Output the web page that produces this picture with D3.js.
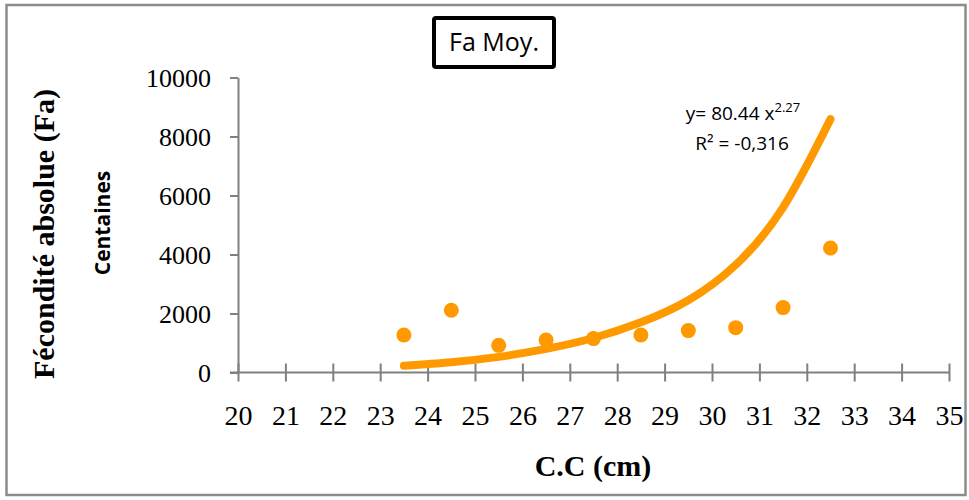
<!DOCTYPE html>
<html>
<head>
<meta charset="utf-8">
<script src="https://cdn.jsdelivr.net/npm/d3@7"></script>
<style>
  body { margin: 0; background: #fff; }
  svg { display: block; }
</style>
</head>
<body>
<div id="chart"></div>
<script>
// data
var lengths = [23.5, 24.5, 25.5, 26.5, 27.5, 28.5, 29.5, 30.5, 31.5, 32.5];
var fecundity = [1270, 2110, 920, 1100, 1150, 1270, 1420, 1520, 2200, 4220];
// trend curve, read at the same lengths
var trend = [231, 350, 530, 800, 1170, 1700, 2450, 3650, 5600, 8590];
var xTicks = d3.range(20, 36, 1);
var yTicks = [0, 2000, 4000, 6000, 8000, 10000];

var svgWidth = 969;
var svgHeight = 500;
var orange = "#ff9900";
var axisGrey = "#808080";

var svg = d3.select("#chart")
  .append("svg")
  .attr("width", svgWidth)
  .attr("height", svgHeight);

// outer frame
svg.append("rect")
  .attr("x", 6.5)
  .attr("y", 5)
  .attr("width", 959)
  .attr("height", 490)
  .attr("fill", "none")
  .attr("stroke", "#8c8c8c")
  .attr("stroke-width", 2.5);

var xScale = d3.scaleLinear().domain([20, 35]).range([238, 949]);
var yScale = d3.scaleLinear().domain([0, 10000]).range([372.5, 77.5]);

// y axis
var yAxis = svg.append("g")
  .attr("transform", "translate(238,0)")
  .call(d3.axisLeft(yScale).tickValues(yTicks).tickSizeInner(8).tickSizeOuter(0)
    .tickPadding(19).tickFormat(d3.format("d")));
yAxis.select(".domain").attr("stroke", axisGrey).attr("stroke-width", 2);
yAxis.selectAll(".tick line").attr("stroke", axisGrey).attr("stroke-width", 2);
yAxis.selectAll(".tick text")
  .attr("font-family", "'Liberation Serif', 'Times New Roman', serif")
  .attr("font-size", "26px")
  .attr("fill", "#000")
  .attr("dy", "0.34em");

// x axis, ticks cross the line
var xAxis = svg.append("g")
  .attr("transform", "translate(0," + yScale(0) + ")")
  .call(d3.axisBottom(xScale).tickValues(xTicks).tickSizeInner(9).tickSizeOuter(0).tickFormat(d3.format("d")));
xAxis.select(".domain").attr("d", "M230,0H" + xScale(35)).attr("stroke", axisGrey).attr("stroke-width", 2);
xAxis.selectAll(".tick line").attr("y1", -9).attr("y2", 9).attr("stroke", axisGrey).attr("stroke-width", 2);
xAxis.selectAll(".tick text")
  .attr("font-family", "'Liberation Serif', 'Times New Roman', serif")
  .attr("font-size", "28px")
  .attr("fill", "#000")
  .attr("y", 52)
  .attr("dy", 0);

// trend curve
var line = d3.line()
  .x(function (d, i) { return xScale(lengths[i]); })
  .y(function (d) { return yScale(d); })
  .curve(d3.curveNatural);

svg.append("path")
  .datum(trend)
  .attr("d", line)
  .attr("fill", "none")
  .attr("stroke", orange)
  .attr("stroke-width", 8)
  .attr("stroke-linecap", "round");

// points
svg.selectAll("circle.pt")
  .data(fecundity)
  .enter()
  .append("circle")
  .attr("class", "pt")
  .attr("cx", function (d, i) { return xScale(lengths[i]); })
  .attr("cy", function (d) { return yScale(d); })
  .attr("r", 7.5)
  .attr("fill", orange);

// title box
svg.append("rect")
  .attr("x", 434)
  .attr("y", 18)
  .attr("width", 120)
  .attr("height", 49)
  .attr("rx", 2)
  .attr("fill", "#fff")
  .attr("stroke", "#000")
  .attr("stroke-width", 4);

svg.append("text")
  .attr("x", 494)
  .attr("y", 51)
  .attr("text-anchor", "middle")
  .attr("font-family", "'Open Sans', sans-serif")
  .attr("font-size", "25px")
  .attr("fill", "#000")
  .text("Fa Moy.");

// equation
var eq = svg.append("text")
  .attr("x", 743)
  .attr("y", 120)
  .attr("text-anchor", "middle")
  .attr("font-family", "'Open Sans', sans-serif")
  .attr("font-size", "19px")
  .attr("fill", "#000");
eq.append("tspan").text("y= 80.44 x");
eq.append("tspan").attr("dy", -8).attr("font-size", "13px").text("2.27");

svg.append("text")
  .attr("x", 742)
  .attr("y", 150)
  .attr("text-anchor", "middle")
  .attr("font-family", "'Open Sans', sans-serif")
  .attr("font-size", "19px")
  .attr("fill", "#000")
  .text("R² = -0,316");

// axis titles
svg.append("text")
  .attr("transform", "translate(54,234) rotate(-90)")
  .attr("text-anchor", "middle")
  .attr("font-family", "'Liberation Serif', 'Times New Roman', serif")
  .attr("font-weight", "bold")
  .attr("font-size", "30px")
  .attr("fill", "#000")
  .text("Fécondité absolue (Fa)");

svg.append("text")
  .attr("transform", "translate(110,223) rotate(-90)")
  .attr("text-anchor", "middle")
  .attr("font-family", "'Open Sans', sans-serif")
  .attr("font-weight", "bold")
  .attr("font-size", "21px")
  .attr("fill", "#000")
  .text("Centaines");

svg.append("text")
  .attr("x", 593)
  .attr("y", 476)
  .attr("text-anchor", "middle")
  .attr("font-family", "'Liberation Serif', 'Times New Roman', serif")
  .attr("font-weight", "bold")
  .attr("font-size", "30px")
  .attr("fill", "#000")
  .text("C.C (cm)");
</script>
</body>
</html>
